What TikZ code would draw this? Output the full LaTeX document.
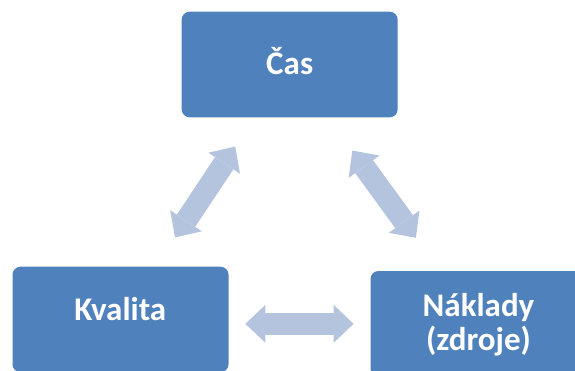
\documentclass[tikz,border=0pt]{standalone}
\usepackage{fontspec}
\setmainfont{Carlito}
\usetikzlibrary{arrows.meta,calc}
\definecolor{boxblue}{RGB}{79,129,189}
\definecolor{arrowblue}{RGB}{180,195,222}
\tikzset{
  block/.style={fill=boxblue, draw=none, rounded corners=8pt,
    minimum width=216pt, minimum height=105.6pt, inner sep=0pt},
  label/.style={text=white, font=\fontsize{33}{34}\selectfont\bfseries,
    anchor=base, inner sep=0pt},
  dblarrow/.style={draw=arrowblue, line width=22pt,
    {Triangle[length=20pt,width=38pt,line width=0pt,fill=arrowblue]}-{Triangle[length=20pt,width=38pt,line width=0pt,fill=arrowblue]}}
}
\begin{document}
\begin{tikzpicture}[x=1pt,y=-1pt]
  \useasboundingbox (0,0) rectangle (575,370);
  \clip (0,0) rectangle (575,370);
  % the three blocks
  \node[block] (cas)  at (289.7,64.5)  {};
  \node[block] (kval) at (120.5,319.5) {};
  \node[block] (nak)  at (478.5,323.8) {};
  % their captions
  \node[label] (cas-t)  at (289.7,74)  {Čas};
  \node[label] (kval-t) at (120.3,320) {Kvalita};
  \node[label] (nak-t1) at (478.5,316) {Náklady};
  \node[label] (nak-t2) at (478.5,350) {(zdroje)};
  % two-way links between the blocks
  \draw[dblarrow, shorten <=98.5pt, shorten >=98.5pt] (cas.center) -- (kval.center);
  \draw[dblarrow, shorten <=106.4pt, shorten >=106.4pt] (cas.center) -- (nak.center);
  \draw[dblarrow, shorten <=16.7pt, shorten >=16.7pt] (kval.east |- nak.west) -- (nak.west);
\end{tikzpicture}
\end{document}
